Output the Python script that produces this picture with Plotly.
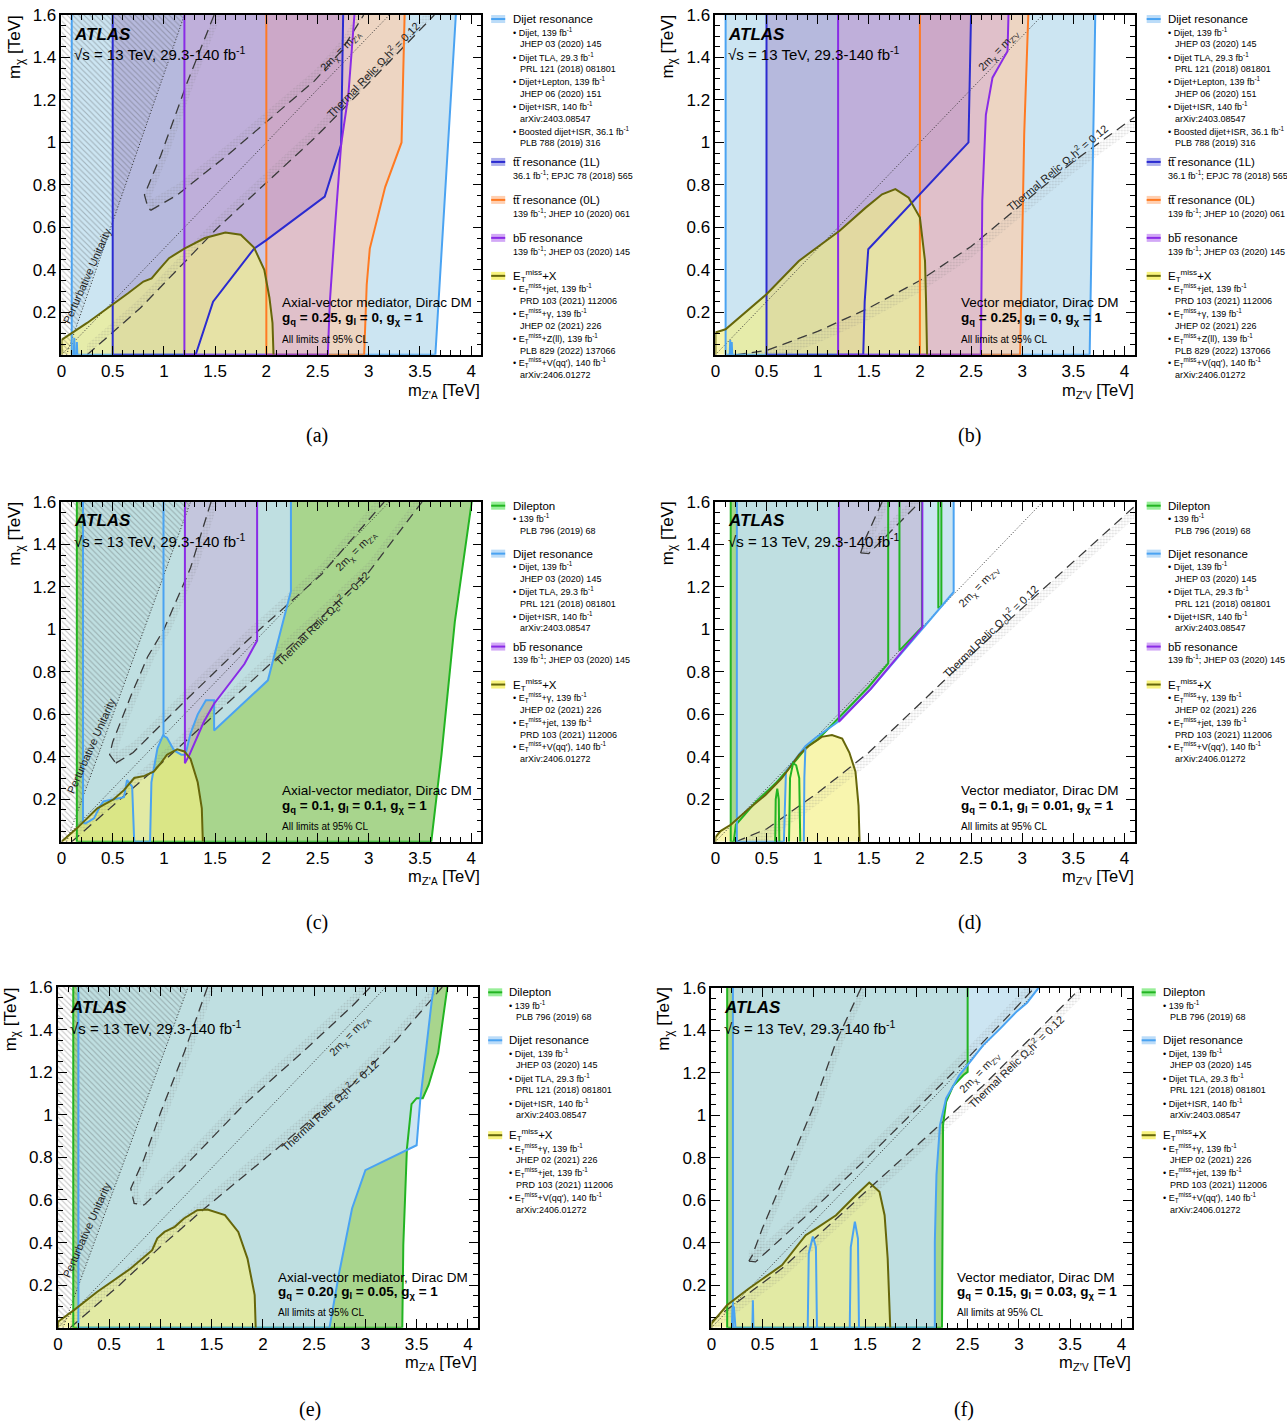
import plotly.graph_objects as go

W, H = 1287, 1421
PAGE_OFF = 8                      # page margin of the browser body
SX = (W + PAGE_OFF) / W           # compensation of the photographed page scale
SY = (H + PAGE_OFF) / H

# ------------------------------------------------------------------ data
x_tick_vals = [0, 0.5, 1, 1.5, 2, 2.5, 3, 3.5, 4]
x_tick_text = ["0", "0.5", "1", "1.5", "2", "2.5", "3", "3.5", "4"]
y_tick_vals = [0.2, 0.4, 0.6, 0.8, 1.0, 1.2, 1.4, 1.6]
y_tick_text = ["0.2", "0.4", "0.6", "0.8", "1", "1.2", "1.4", "1.6"]
twomchi_x = [0.0, 3.2]
twomchi_y = [0.0, 1.6]

# (a) axial-vector, gq=0.25, gl=0
a_dijet_x = [0.1, 0.1, 3.65, 3.7, 3.75, 3.8, 3.85]
a_dijet_y = [1.6, 0.0, 0.0, 0.4, 0.8, 1.2, 1.6]
a_tt0l_x = [2.0, 2.0, 2.955, 2.98, 3.01, 3.09, 3.16, 3.32, 3.35]
a_tt0l_y = [1.6, 0.0, 0.0, 0.33, 0.5, 0.66, 0.79, 1.0, 1.6]
a_tt1l_x = [0.5, 0.5, 1.31, 1.48, 1.88, 2.0, 2.57, 2.73, 2.75]
a_tt1l_y = [1.6, 0.0, 0.0, 0.25, 0.5, 0.54, 0.745, 0.99, 1.6]
a_bb_x = [1.2, 1.2, 2.6, 2.62, 2.67, 2.73, 2.8, 2.86]
a_bb_y = [1.6, 0.0, 0.0, 0.25, 0.6, 0.99, 1.22, 1.6]
a_met_x = [0.0, 0.0, 0.25, 0.5, 0.65, 0.8, 0.88, 0.95, 1.05, 1.2, 1.4, 1.6, 1.75, 1.88, 1.98, 2.03, 2.06, 2.07]
a_met_y = [0.0, 0.07, 0.15, 0.235, 0.29, 0.345, 0.36, 0.4, 0.455, 0.5, 0.55, 0.576, 0.565, 0.505, 0.4, 0.27, 0.15, 0.0]
a_spike_x = [0.12, 0.125, 0.13, None, 0.145, 0.15, 0.155]
a_spike_y = [0.0, 0.08, 0.0, None, 0.0, 0.06, 0.0]
a_unit_x = [0.05, 1.2]
a_unit_y = [0.0, 1.6]
a_relic_ul_x = [1.49, 1.23, 0.97, 0.81, 0.84, 0.87]
a_relic_ul_y = [1.6, 1.286, 0.94, 0.753, 0.7, 0.68]
a_relic_ur_x = [0.87, 1.13, 1.62, 2.01, 2.47, 2.73, 2.95]
a_relic_ur_y = [0.68, 0.753, 0.94, 1.1, 1.29, 1.43, 1.6]
a_relic_lo_x = [0.25, 0.68, 0.77, 1.52, 2.01, 2.47, 3.0, 3.64]
a_relic_lo_y = [0.0, 0.18, 0.22, 0.596, 0.815, 1.02, 1.28, 1.6]

# (b) vector, gq=0.25, gl=0
b_dijet_x = [0.1, 0.1, 3.66, 3.69, 3.715]
b_dijet_y = [1.6, 0.0, 0.0, 0.8, 1.6]
b_tt0l_x = [2.0, 2.0, 2.98, 3.0, 3.02, 3.06]
b_tt0l_y = [1.6, 0.0, 0.0, 0.57, 1.04, 1.6]
b_tt1l_x = [0.5, 0.5, 1.446, 1.46, 1.495, 2.475, 2.5]
b_tt1l_y = [1.6, 0.0, 0.0, 0.25, 0.497, 1.0, 1.6]
b_bb_x = [1.2, 1.2, 2.596, 2.61, 2.645, 2.71, 2.81, 2.857, 2.866]
b_bb_y = [1.6, 0.0, 0.0, 0.725, 1.13, 1.305, 1.39, 1.43, 1.6]
b_met_x = [0.0, 0.0, 0.1, 0.5, 0.816, 1.215, 1.47, 1.63, 1.76, 1.89, 2.0, 2.05, 2.06, 2.07]
b_met_y = [0.0, 0.105, 0.12, 0.285, 0.442, 0.584, 0.693, 0.756, 0.78, 0.74, 0.646, 0.442, 0.254, 0.0]
b_spike_x = [0.14, 0.145, 0.15, None, 0.155, 0.16, 0.165]
b_spike_y = [0.0, 0.07, 0.0, None, 0.0, 0.06, 0.0]
b_relic_lo_x = [0.2, 0.5, 1.0, 1.5, 2.0, 2.5, 3.0, 3.5, 4.1]
b_relic_lo_y = [0.0, 0.02, 0.11, 0.22, 0.35, 0.51, 0.71, 0.91, 1.12]

# (c) axial-vector, gq=0.1, gl=0.1
c_dilep_x = [0.15, 0.15, 3.61, 3.71, 3.84, 4.005]
c_dilep_y = [1.6, 0.0, 0.0, 0.41, 1.035, 1.6]
c_dijet_x = [0.21, 0.21, 0.235, 0.317, 0.38, 0.41, 0.51, 0.61, 0.64, 0.69, 0.71, 0.865, 0.878, 0.937, 0.99,
             1.03, 1.1, 1.17, 1.21, 1.26, 1.33, 1.41, 1.49, 1.49, 2.015, 2.24, 2.24]
c_dijet_y = [1.6, 0.09, 0.086, 0.11, 0.17, 0.19, 0.2, 0.21, 0.29, 0.26, 0.0, 0.0, 0.28, 0.44, 0.5,
             0.49, 0.43, 0.41, 0.41, 0.51, 0.6, 0.666, 0.666, 0.524, 0.76, 1.18, 1.6]
c_dijet_inner_x = [0.996, 0.996]
c_dijet_inner_y = [0.5, 1.6]
c_bb_x = [1.205, 1.205, 1.25, 1.39, 1.49, 1.786, 1.91, 1.91]
c_bb_y = [1.6, 0.37, 0.41, 0.565, 0.65, 0.837, 0.947, 1.6]
c_met_x = [0.0, 0.15, 0.35, 0.51, 0.61, 0.71, 0.81, 0.9, 0.97, 1.03, 1.13, 1.2, 1.26, 1.33, 1.37, 1.38]
c_met_y = [0.0, 0.063, 0.157, 0.2, 0.243, 0.3, 0.31, 0.33, 0.37, 0.41, 0.435, 0.425, 0.39, 0.28, 0.157, 0.0]
c_unit_x = [0.05, 1.26]
c_unit_y = [0.0, 1.6]
c_relic_ul_x = [1.46, 1.26, 1.0, 0.84, 0.68, 0.5, 0.47, 0.53]
c_relic_ul_y = [1.6, 1.29, 1.0, 0.87, 0.69, 0.47, 0.41, 0.37]
c_relic_ur_x = [0.53, 0.7, 1.2, 1.82, 2.54, 3.15]
c_relic_ur_y = [0.37, 0.42, 0.66, 0.95, 1.26, 1.6]
c_relic_lo_x = [0.1, 0.5, 1.0, 1.5, 2.0, 2.5, 3.0, 3.52]
c_relic_lo_y = [0.0, 0.17, 0.38, 0.6, 0.82, 1.04, 1.27, 1.6]

# (d) vector, gq=0.1, gl=0.01
d_dilep_x = [0.15, 0.15, 0.18, 0.2, 0.4, 0.6, 0.8, 0.9, 1.0, 1.2, 1.5, 1.69, 1.69, None,
             1.8, 1.8, 2.02, 2.02, None, 2.18, 2.18, 2.21, 2.21]
d_dilep_y = [1.6, 0.0, 0.0, 0.08, 0.19, 0.28, 0.39, 0.45, 0.48, 0.58, 0.73, 0.84, 1.6, None,
             1.6, 0.9, 1.01, 1.6, None, 1.6, 1.1, 1.11, 1.6]
d_dijet_x = [0.21, 0.21, 0.67, 0.69, 0.88, 0.98, 1.2, 1.52, 2.02, 2.33, 2.33]
d_dijet_y = [1.6, 0.0, 0.0, 0.33, 0.45, 0.49, 0.565, 0.72, 1.0, 1.176, 1.6]
d_bb_x = [1.208, 1.208, 1.52, 2.024, 2.024]
d_bb_y = [1.6, 0.565, 0.72, 1.01, 1.6]
d_met_x = [0.0, 0.0, 0.05, 0.15, 0.33, 0.49, 0.65, 0.82, 0.91, 1.04, 1.14, 1.24, 1.31, 1.37, 1.4, 1.41]
d_met_y = [0.0, 0.02, 0.05, 0.08, 0.157, 0.22, 0.3, 0.41, 0.45, 0.494, 0.502, 0.486, 0.42, 0.33, 0.17, 0.0]
d_arch_green_x = [0.585, 0.59, 0.605, 0.62, 0.625, None, 0.72, 0.73, 0.76, 0.79, 0.82, 0.83]
d_arch_green_y = [0.0, 0.2, 0.25, 0.2, 0.0, None, 0.0, 0.3, 0.37, 0.36, 0.3, 0.0]
d_arch_blue_x = [0.865, 0.87, 0.88]
d_arch_blue_y = [0.0, 0.3, 0.44]
d_relic_lo_x = [0.2, 0.5, 1.0, 1.5, 2.0, 2.5, 3.0, 3.5, 4.1]
d_relic_lo_y = [0.0, 0.06, 0.23, 0.42, 0.65, 0.88, 1.1, 1.32, 1.58]
d_relic_ul_x = [1.63, 1.47, 1.42]
d_relic_ul_y = [1.6, 1.43, 1.36]
d_relic_ur_x = [1.42, 1.5, 2.0]
d_relic_ur_y = [1.36, 1.357, 1.6]

# (e) axial-vector, gq=0.20, gl=0.05
e_dilep_x = [0.15, 0.15, 3.36, 3.37, 3.405, 3.45, 3.5, 3.56, 3.617, 3.71, 3.8]
e_dilep_y = [1.6, 0.0, 0.0, 0.39, 0.84, 1.05, 1.078, 1.078, 1.14, 1.29, 1.6]
e_dijet_x = [0.2, 0.2, 2.65, 2.74, 2.87, 3.0, 3.5, 3.535, 3.65, 3.67]
e_dijet_y = [1.6, 0.0, 0.0, 0.247, 0.56, 0.74, 0.857, 1.068, 1.546, 1.6]
e_met_x = [0.0, 0.0, 0.157, 0.385, 0.71, 0.92, 0.97, 1.04, 1.14, 1.23, 1.36, 1.46, 1.63, 1.76, 1.85, 1.92, 1.93]
e_met_y = [0.0, 0.028, 0.083, 0.169, 0.278, 0.364, 0.42, 0.45, 0.474, 0.513, 0.552, 0.555, 0.529, 0.45, 0.325, 0.153, 0.0]
e_unit_x = [0.05, 1.27]
e_unit_y = [0.0, 1.6]
e_relic_ul_x = [1.46, 1.234, 1.005, 0.842, 0.711, 0.744, 0.84]
e_relic_ul_y = [1.6, 1.295, 1.014, 0.795, 0.654, 0.584, 0.576]
e_relic_ur_x = [0.84, 1.2, 1.82, 2.4, 2.87, 3.05]
e_relic_ur_y = [0.576, 0.74, 1.05, 1.3, 1.51, 1.6]
e_relic_lo_x = [0.12, 0.6, 1.0, 1.43, 2.21, 2.87, 3.3, 3.75]
e_relic_lo_y = [0.0, 0.2, 0.38, 0.56, 0.87, 1.14, 1.35, 1.6]

# (f) vector, gq=0.15, gl=0.03
f_dilep_x = [0.154, 0.154, 2.25, 2.255, 2.26, 2.29, 2.36, 2.46, 2.5, 2.5]
f_dilep_y = [1.6, 0.0, 0.0, 0.56, 0.954, 1.064, 1.14, 1.19, 1.205, 1.6]
f_dijet_x = [0.21, 0.21, 2.18, 2.18, 2.196, 2.23, 2.29, 2.42, 2.52, 2.65, 2.82, 2.98, 3.08, 3.19]
f_dijet_y = [1.6, 0.0, 0.0, 0.405, 0.72, 0.954, 1.08, 1.19, 1.25, 1.33, 1.41, 1.49, 1.53, 1.6]
f_met_x = [0.0, 0.0, 0.154, 0.366, 0.69, 0.92, 1.02, 1.216, 1.41, 1.54, 1.64, 1.69, 1.72, 1.745]
f_met_y = [0.0, 0.02, 0.107, 0.185, 0.295, 0.436, 0.467, 0.53, 0.624, 0.684, 0.64, 0.53, 0.326, 0.0]
f_arch_x = [0.2, 0.205, 0.22, 0.23, 0.235, None, 0.4, 0.405, 0.41, None,
            0.94, 0.95, 0.99, 1.02, 1.03, None, 1.35, 1.36, 1.4, 1.43, 1.44]
f_arch_y = [0.0, 0.09, 0.1, 0.05, 0.0, None, 0.0, 0.13, 0.0, None,
            0.0, 0.35, 0.43, 0.38, 0.0, None, 0.0, 0.38, 0.5, 0.42, 0.0]
f_relic_ul_x = [1.46, 1.216, 0.987, 0.69, 0.497, 0.4, 0.366]
f_relic_ul_y = [1.6, 1.346, 1.03, 0.687, 0.467, 0.342, 0.314]
f_relic_ur_x = [0.366, 0.43, 1.0, 1.5, 2.0, 2.5, 2.9, 3.15]
f_relic_ur_y = [0.314, 0.31, 0.56, 0.79, 1.03, 1.27, 1.47, 1.6]
f_relic_lo_x = [0.0, 0.69, 1.54, 2.26, 2.65, 3.54, 3.6]
f_relic_lo_y = [0.03, 0.28, 0.656, 0.97, 1.14, 1.57, 1.6]

# text content
atlas_text = "<b><i>ATLAS</i></b>"
energy_text = "√s = 13 TeV, 29.3-140 fb<sup>-1</sup>"
cl_text = "All limits at 95% CL"
model_axial = "Axial-vector mediator, Dirac DM"
model_vector = "Vector mediator, Dirac DM"
coup_a = "<b>g<sub>q</sub> = 0.25, g<sub>l</sub> = 0, g<sub>χ</sub> = 1</b>"
coup_b = "<b>g<sub>q</sub> = 0.25, g<sub>l</sub> = 0, g<sub>χ</sub> = 1</b>"
coup_c = "<b>g<sub>q</sub> = 0.1, g<sub>l</sub> = 0.1, g<sub>χ</sub> = 1</b>"
coup_d = "<b>g<sub>q</sub> = 0.1, g<sub>l</sub> = 0.01, g<sub>χ</sub> = 1</b>"
coup_e = "<b>g<sub>q</sub> = 0.20, g<sub>l</sub> = 0.05, g<sub>χ</sub> = 1</b>"
coup_f = "<b>g<sub>q</sub> = 0.15, g<sub>l</sub> = 0.03, g<sub>χ</sub> = 1</b>"
unit_label = "Perturbative Unitarity"
relic_label = "Thermal Relic Ω<sub>c</sub>h<sup>2</sup> = 0.12"
twom_label_A = "2m<sub>χ</sub> = m<sub>Z'<span style='font-size:7px'>A</span></sub>"
twom_label_V = "2m<sub>χ</sub> = m<sub>Z'<span style='font-size:7px'>V</span></sub>"
xtitle_A = "m<sub>Z'<span style='font-size:10px'>A</span></sub> [TeV]"
xtitle_V = "m<sub>Z'<span style='font-size:10px'>V</span></sub> [TeV]"
ytitle = "m<sub>χ</sub> [TeV]"
captions = ["(a)", "(b)", "(c)", "(d)", "(e)", "(f)"]

leg_titles = {
    "dijet": "Dijet resonance",
    "tt1l": "tt\u0305 resonance (1L)",
    "tt0l": "tt\u0305 resonance (0L)",
    "bb": "bb\u0305 resonance",
    "met": "E<sub>T</sub><sup>miss</sup>+X",
    "dilep": "Dilepton",
}
leg_dijet5 = ["• Dijet, 139 fb<sup>-1</sup>", "JHEP 03 (2020) 145",
              "• Dijet TLA, 29.3 fb<sup>-1</sup>", "PRL 121 (2018) 081801",
              "• Dijet+Lepton, 139 fb<sup>-1</sup>", "JHEP 06 (2020) 151",
              "• Dijet+ISR, 140 fb<sup>-1</sup>", "arXiv:2403.08547",
              "• Boosted dijet+ISR, 36.1 fb<sup>-1</sup>", "PLB 788 (2019) 316"]
leg_dijet3 = ["• Dijet, 139 fb<sup>-1</sup>", "JHEP 03 (2020) 145",
              "• Dijet TLA, 29.3 fb<sup>-1</sup>", "PRL 121 (2018) 081801",
              "• Dijet+ISR, 140 fb<sup>-1</sup>", "arXiv:2403.08547"]
leg_tt1l = ["36.1 fb<sup>-1</sup>; EPJC 78 (2018) 565"]
leg_tt0l = ["139 fb<sup>-1</sup>; JHEP 10 (2020) 061"]
leg_bb = ["139 fb<sup>-1</sup>; JHEP 03 (2020) 145"]
leg_met4 = ["• E<sub>T</sub><sup>miss</sup>+jet, 139 fb<sup>-1</sup>", "PRD 103 (2021) 112006",
            "• E<sub>T</sub><sup>miss</sup>+γ, 139 fb<sup>-1</sup>", "JHEP 02 (2021) 226",
            "• E<sub>T</sub><sup>miss</sup>+Z(ll), 139 fb<sup>-1</sup>", "PLB 829 (2022) 137066",
            "• E<sub>T</sub><sup>miss</sup>+V(qq'), 140 fb<sup>-1</sup>", "arXiv:2406.01272"]
leg_met3 = ["• E<sub>T</sub><sup>miss</sup>+γ, 139 fb<sup>-1</sup>", "JHEP 02 (2021) 226",
            "• E<sub>T</sub><sup>miss</sup>+jet, 139 fb<sup>-1</sup>", "PRD 103 (2021) 112006",
            "• E<sub>T</sub><sup>miss</sup>+V(qq'), 140 fb<sup>-1</sup>", "arXiv:2406.01272"]
leg_dilep = ["• 139 fb<sup>-1</sup>", "PLB 796 (2019) 68"]

# ------------------------------------------------------------------ styles
FILL = {
    "dilep": "rgba(110,185,65,0.6)",
    "dijet": "rgba(195,224,240,0.85)",
    "tt0l": "rgba(255,205,168,0.65)",
    "tt1l": "rgba(140,104,184,0.35)",
    "bb": "rgba(205,160,215,0.4)",
    "met": "rgba(245,240,130,0.65)",
}
LINE = {
    "dilep": "#22b422",
    "dijet": "#4aa3f2",
    "tt0l": "#ff7a22",
    "tt1l": "#2b2bd0",
    "bb": "#8a2be6",
    "met": "#66660a",
}
SWATCH = {
    "dilep": "#98ee98",
    "dijet": "#bcdcf8",
    "tt0l": "#ffcfb0",
    "tt1l": "#aeb0ec",
    "bb": "#d2a8f6",
    "met": "#f8f37e",
}
FONT = "Liberation Sans"
RELIC_COL = "#3a3a3a"

panels = [
    dict(box=(64.3, 483.3, 14, 354), axial=True,
         regions=[("dijet", a_dijet_x, a_dijet_y), ("tt0l", a_tt0l_x, a_tt0l_y),
                  ("tt1l", a_tt1l_x, a_tt1l_y), ("bb", a_bb_x, a_bb_y), ("met", a_met_x, a_met_y)],
         extra=[("dijet", a_spike_x, a_spike_y)],
         unit=(a_unit_x, a_unit_y),
         relic=[(a_relic_ul_x, a_relic_ul_y, 0.07, 0.0), (a_relic_ur_x, a_relic_ur_y, 0.0, 0.05),
                (a_relic_lo_x, a_relic_lo_y, 0.0, 0.05)],
         labels=[(unit_label, 0.25, 0.37, -66), (twom_label_A, 2.73, 1.43, -46), (relic_label, 3.05, 1.34, -46)],
         atlas=(75, 33, 52), model=(282, 302, 318, 339), coup=coup_a,
         ytitle=(19, 46), xtitle=(484, 390), caption=(319, 435),
         legend=(493, 513, [("dijet", 18, leg_dijet5), ("tt1l", 161, leg_tt1l), ("tt0l", 199, leg_tt0l),
                            ("bb", 237, leg_bb), ("met", 275, leg_met4)])),
    dict(box=(716.7, 1135, 14, 354), axial=False,
         regions=[("dijet", b_dijet_x, b_dijet_y), ("tt0l", b_tt0l_x, b_tt0l_y),
                  ("tt1l", b_tt1l_x, b_tt1l_y), ("bb", b_bb_x, b_bb_y), ("met", b_met_x, b_met_y)],
         extra=[("dijet", b_spike_x, b_spike_y)],
         unit=None,
         relic=[(b_relic_lo_x, b_relic_lo_y, 0.0, -0.055)],
         labels=[(twom_label_V, 2.77, 1.43, -46), (relic_label, 3.35, 0.88, -40)],
         atlas=(727, 33, 52), model=(960, 302, 318, 339), coup=coup_b,
         ytitle=(670, 46), xtitle=(1136, 390), caption=(970, 435),
         legend=(1147, 1166, [("dijet", 18, leg_dijet5), ("tt1l", 161, leg_tt1l), ("tt0l", 199, leg_tt0l),
                              ("bb", 237, leg_bb), ("met", 275, leg_met4)])),
    dict(box=(64.3, 483.3, 501.3, 841.3), axial=True,
         regions=[("dilep", c_dilep_x, c_dilep_y), ("dijet", c_dijet_x, c_dijet_y),
                  ("bb", c_bb_x, c_bb_y), ("met", c_met_x, c_met_y)],
         extra=[("dijet", c_dijet_inner_x, c_dijet_inner_y)],
         unit=(c_unit_x, c_unit_y),
         relic=[(c_relic_ul_x, c_relic_ul_y, 0.07, 0.0), (c_relic_ur_x, c_relic_ur_y, 0.0, 0.05),
                (c_relic_lo_x, c_relic_lo_y, 0.0, 0.05)],
         labels=[(unit_label, 0.29, 0.45, -66), (twom_label_A, 2.88, 1.37, -45), (relic_label, 2.55, 1.05, -45)],
         atlas=(75, 520, 540), model=(282, 790, 806, 826), coup=coup_c,
         ytitle=(19, 533), xtitle=(484, 877), caption=(319, 922),
         legend=(493, 513, [("dilep", 505, leg_dilep), ("dijet", 553, leg_dijet3), ("bb", 646, leg_bb),
                            ("met", 684, leg_met3)])),
    dict(box=(716.7, 1135, 501.3, 841.3), axial=False,
         regions=[("dilep", d_dilep_x, d_dilep_y), ("dijet", d_dijet_x, d_dijet_y),
                  ("bb", d_bb_x, d_bb_y), ("met", d_met_x, d_met_y)],
         extra=[("dilep", d_arch_green_x, d_arch_green_y), ("dijet", d_arch_blue_x, d_arch_blue_y)],
         unit=None,
         relic=[(d_relic_lo_x, d_relic_lo_y, 0.0, -0.055), (d_relic_ul_x, d_relic_ul_y, 0.07, 0.0),
                (d_relic_ur_x, d_relic_ur_y, 0.0, 0.05)],
         labels=[(twom_label_V, 2.58, 1.2, -46), (relic_label, 2.69, 0.99, -44)],
         atlas=(727, 520, 540), model=(960, 790, 806, 826), coup=coup_d,
         ytitle=(670, 533), xtitle=(1136, 877), caption=(970, 922),
         legend=(1147, 1166, [("dilep", 505, leg_dilep), ("dijet", 553, leg_dijet3), ("bb", 646, leg_bb),
                              ("met", 684, leg_met3)])),
    dict(box=(60.7, 480, 986.7, 1327.7), axial=True,
         regions=[("dilep", e_dilep_x, e_dilep_y), ("dijet", e_dijet_x, e_dijet_y), ("met", e_met_x, e_met_y)],
         extra=[],
         unit=(e_unit_x, e_unit_y),
         relic=[(e_relic_ul_x, e_relic_ul_y, 0.07, 0.0), (e_relic_ur_x, e_relic_ur_y, 0.0, 0.05),
                (e_relic_lo_x, e_relic_lo_y, 0.0, 0.05)],
         labels=[(unit_label, 0.28, 0.46, -66), (twom_label_A, 2.85, 1.37, -46), (relic_label, 2.66, 1.04, -43)],
         atlas=(71, 1007, 1027), model=(278, 1277, 1292, 1312), coup=coup_e,
         ytitle=(15, 1019), xtitle=(481, 1363), caption=(312, 1409),
         legend=(490, 509, [("dilep", 992, leg_dilep), ("dijet", 1040, leg_dijet3), ("met", 1135, leg_met3)])),
    dict(box=(712.7, 1132, 987.7, 1327.7), axial=False,
         regions=[("dilep", f_dilep_x, f_dilep_y), ("dijet", f_dijet_x, f_dijet_y), ("met", f_met_x, f_met_y)],
         extra=[("dijet", f_arch_x, f_arch_y)],
         unit=None,
         relic=[(f_relic_ul_x, f_relic_ul_y, 0.07, 0.0), (f_relic_ur_x, f_relic_ur_y, 0.0, 0.05),
                (f_relic_lo_x, f_relic_lo_y, 0.0, -0.05)],
         labels=[(twom_label_V, 2.62, 1.2, -46), (relic_label, 2.98, 1.25, -44)],
         atlas=(723, 1007, 1027), model=(956, 1277, 1292, 1312), coup=coup_f,
         ytitle=(667, 1019), xtitle=(1133, 1363), caption=(965, 1409),
         legend=(1142, 1161, [("dilep", 992, leg_dilep), ("dijet", 1040, leg_dijet3), ("met", 1135, leg_met3)])),
]


def px(x):
    return (x * SX - PAGE_OFF) / W


def py(y):
    return 1 - (y * SY - PAGE_OFF) / H


def band(xs, ys, dx, dy):
    return (list(xs) + [v + dx for v in reversed(xs)],
            list(ys) + [v + dy for v in reversed(ys)])


fig = go.Figure()
annotations = []
shapes = []
layout_axes = {}

for i, p in enumerate(panels, start=1):
    xa = "x" if i == 1 else f"x{i}"
    ya = "y" if i == 1 else f"y{i}"
    common = dict(xaxis=xa, yaxis=ya, showlegend=False, hoverinfo="skip")

    # filled regions
    for kind, xs, ys in p["regions"]:
        fig.add_trace(go.Scatter(x=xs, y=ys, mode="lines", fill="toself", fillcolor=FILL[kind],
                                 line=dict(width=0), **common))
    # perturbative unitarity hatch
    if p["unit"] is not None:
        ux, uy = p["unit"]
        hx = [0.0] + list(ux) + [0.0]
        hy = [uy[0]] + list(uy) + [uy[-1]]
        fig.add_trace(go.Scatter(x=hx, y=hy, mode="lines", fill="toself", fillcolor="rgba(0,0,0,0)",
                                 fillpattern=dict(shape="\\", fgcolor="rgba(70,70,70,0.65)", size=4,
                                                  solidity=0.28, bgcolor="rgba(0,0,0,0)"),
                                 line=dict(width=0), **common))
    # relic bands
    for rx, ry, dx, dy in p["relic"]:
        bx, by = band(rx, ry, dx, dy)
        fig.add_trace(go.Scatter(x=bx, y=by, mode="lines", fill="toself", fillcolor="rgba(150,150,150,0.12)",
                                 fillpattern=dict(shape=".", fgcolor="rgba(110,110,110,0.5)", size=3,
                                                  solidity=0.35, bgcolor="rgba(0,0,0,0)"),
                                 line=dict(width=0), **common))
    # relic dashed lines
    for rx, ry, dx, dy in p["relic"]:
        fig.add_trace(go.Scatter(x=rx, y=ry, mode="lines",
                                 line=dict(color=RELIC_COL, width=1.3, dash="10px,6px"), **common))
    # 2 m_chi = m_Z' dotted
    fig.add_trace(go.Scatter(x=twomchi_x, y=twomchi_y, mode="lines",
                             line=dict(color="#333333", width=1, dash="1px,2px"), **common))
    if p["unit"] is not None:
        ux, uy = p["unit"]
        fig.add_trace(go.Scatter(x=ux, y=uy, mode="lines",
                                 line=dict(color="#333333", width=1, dash="1px,2px"), **common))
    # region contour lines
    for kind, xs, ys in p["regions"]:
        fig.add_trace(go.Scatter(x=xs, y=ys, mode="lines", line=dict(color=LINE[kind], width=2), **common))
    for kind, xs, ys in p["extra"]:
        fig.add_trace(go.Scatter(x=xs, y=ys, mode="lines", line=dict(color=LINE[kind], width=2), **common))

    # axes
    x0, x1, ytop, ybot = p["box"]
    axis_common = dict(showgrid=False, zeroline=False, showline=True, linecolor="black", linewidth=1.5,
                       mirror="ticks", ticks="inside", ticklen=9, tickwidth=1, tickcolor="black",
                       tickfont=dict(family=FONT, size=17, color="black"), fixedrange=True,
                       tickmode="array")
    layout_axes["xaxis" if i == 1 else f"xaxis{i}"] = dict(
        domain=[px(x0), px(x1)], range=[0, 4.1], anchor=ya, tickvals=x_tick_vals, ticktext=x_tick_text,
        minor=dict(ticks="inside", ticklen=5, tickmode="linear", tick0=0, dtick=0.1, tickcolor="black",
                   showgrid=False), **axis_common)
    layout_axes["yaxis" if i == 1 else f"yaxis{i}"] = dict(
        domain=[py(ybot), py(ytop)], range=[0, 1.6], anchor=xa, tickvals=y_tick_vals, ticktext=y_tick_text,
        minor=dict(ticks="inside", ticklen=5, tickmode="linear", tick0=0, dtick=0.05, tickcolor="black",
                   showgrid=False), **axis_common)

    # in-plot rotated labels
    for txt, lx, ly, ang in p["labels"]:
        annotations.append(dict(text=txt, x=lx, y=ly, xref=xa, yref=ya, showarrow=False, textangle=ang,
                                xanchor="center", yanchor="middle",
                                font=dict(family=FONT, size=11, color="#222222")))
    # ATLAS labels
    ax_, ay1, ay2 = p["atlas"]
    annotations.append(dict(text=atlas_text, x=px(ax_), y=py(ay1), xref="paper", yref="paper", showarrow=False,
                            xanchor="left", yanchor="middle", font=dict(family=FONT, size=17, color="black")))
    annotations.append(dict(text=energy_text, x=px(ax_), y=py(ay2), xref="paper", yref="paper", showarrow=False,
                            xanchor="left", yanchor="middle", font=dict(family=FONT, size=15, color="black")))
    mx, my1, my2, my3 = p["model"]
    annotations.append(dict(text=model_axial if p["axial"] else model_vector, x=px(mx), y=py(my1),
                            xref="paper", yref="paper", showarrow=False, xanchor="left", yanchor="middle",
                            font=dict(family=FONT, size=13.5, color="black")))
    annotations.append(dict(text=p["coup"], x=px(mx), y=py(my2), xref="paper", yref="paper", showarrow=False,
                            xanchor="left", yanchor="middle", font=dict(family=FONT, size=13.5, color="black")))
    annotations.append(dict(text=cl_text, x=px(mx), y=py(my3), xref="paper", yref="paper", showarrow=False,
                            xanchor="left", yanchor="middle", font=dict(family=FONT, size=10, color="black")))
    # axis titles
    tx, ty = p["ytitle"]
    annotations.append(dict(text=ytitle, x=px(tx), y=py(ty), xref="paper", yref="paper", showarrow=False,
                            textangle=-90, xanchor="center", yanchor="middle",
                            font=dict(family=FONT, size=17, color="black")))
    tx, ty = p["xtitle"]
    annotations.append(dict(text=xtitle_A if p["axial"] else xtitle_V, x=px(tx), y=py(ty), xref="paper",
                            yref="paper", showarrow=False, xanchor="right", yanchor="middle",
                            font=dict(family=FONT, size=16.5, color="black")))
    cx, cy = p["caption"]
    annotations.append(dict(text=captions[i - 1], x=px(cx), y=py(cy), xref="paper", yref="paper",
                            showarrow=False, xanchor="center", yanchor="middle",
                            font=dict(family="Liberation Serif", size=20, color="black")))

    # legend (drawn by hand)
    sw_x, tx_x, entries = p["legend"]
    for kind, ty0, lines in entries:
        shapes.append(dict(type="rect", xref="paper", yref="paper", x0=px(sw_x), x1=px(sw_x + 14),
                           y0=py(ty0 + 4), y1=py(ty0 - 4), fillcolor=SWATCH[kind], line=dict(width=0)))
        shapes.append(dict(type="line", xref="paper", yref="paper", x0=px(sw_x), x1=px(sw_x + 14),
                           y0=py(ty0), y1=py(ty0), line=dict(color=LINE[kind], width=2)))
        annotations.append(dict(text=leg_titles[kind], x=px(tx_x), y=py(ty0), xref="paper", yref="paper",
                                showarrow=False, xanchor="left", yanchor="middle",
                                font=dict(family=FONT, size=11.5, color="black")))
        bulleted = any(s.startswith("•") for s in lines)
        for k, s in enumerate(lines):
            lx = tx_x if (s.startswith("•") or not bulleted) else tx_x + 7
            annotations.append(dict(text=s, x=px(lx), y=py(ty0 + 12.8 + 12.4 * k), xref="paper", yref="paper",
                                    showarrow=False, xanchor="left", yanchor="middle",
                                    font=dict(family=FONT, size=9, color="black")))

fig.update_layout(width=W, height=H, margin=dict(l=0, r=0, t=0, b=0), paper_bgcolor="white",
                  plot_bgcolor="white", annotations=annotations, shapes=shapes, showlegend=False,
                  **layout_axes)

fig.write_html("out.html")
